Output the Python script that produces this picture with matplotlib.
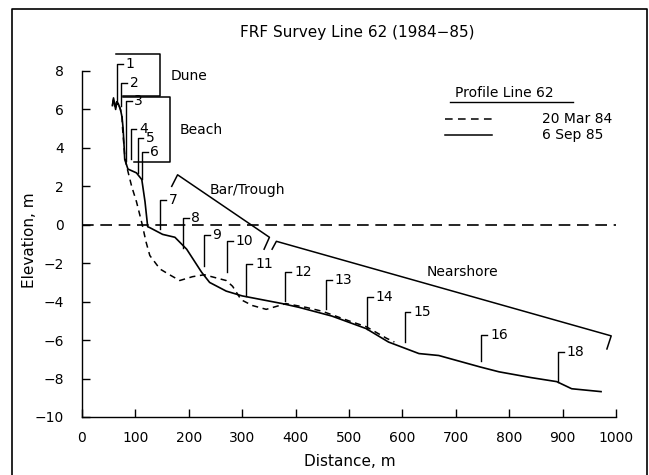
import matplotlib
matplotlib.use("Agg")
import matplotlib.pyplot as plt
from matplotlib.lines import Line2D

# profile 6 Sep 85 (solid)
sep85_x = [57, 59, 61, 63, 65, 68, 72, 75, 77, 79, 80, 86, 102, 112, 118, 123, 127,
           151, 174, 196, 224, 239, 270, 300, 375, 407, 468, 532, 574, 631, 668,
           746, 781, 841, 889, 917, 972]
sep85_y = [6.2, 6.6, 6.3, 6.0, 6.4, 6.3, 6.0, 5.6, 5.0, 4.0, 3.4, 2.9, 2.7, 2.35, 1.2, -0.1, -0.15,
           -0.5, -0.65, -1.27, -2.47, -3.0, -3.45, -3.7, -4.1, -4.3, -4.75, -5.4, -6.1, -6.7, -6.8,
           -7.4, -7.65, -7.95, -8.16, -8.53, -8.68]

# profile 20 Mar 84 (dashed)
mar84_x = [57, 59, 61, 63, 65, 68, 72, 75, 76, 80, 84, 93, 102, 112, 120, 127, 146, 164,
           183, 207, 229, 270, 282, 298, 319, 345, 382, 420, 450, 500, 532, 570, 585]
mar84_y = [6.2, 6.6, 6.3, 6.0, 6.4, 6.3, 6.0, 5.6, 5.0, 3.6, 3.0, 2.0, 1.2, 0.1, -0.9, -1.6, -2.3, -2.6,
           -2.9, -2.7, -2.6, -2.9, -3.2, -3.9, -4.2, -4.4, -4.1, -4.3, -4.5, -5.0, -5.3, -5.9, -6.1]

# survey markers: number, distance, top and bottom elevation
marker_ids = ["1", "2", "3", "4", "5", "6", "7", "8", "9", "10", "11", "12", "13", "14", "15", "16", "18"]
marker_x = [65, 73, 82, 91, 104, 112, 147, 189, 228, 271, 308, 381, 457, 534, 604, 748, 891]
marker_top = [8.36, 7.4, 6.45, 5.0, 4.5, 3.8, 1.27, 0.33, -0.55, -0.86, -2.05, -2.47, -2.88,
              -3.76, -4.54, -5.73, -6.6]
marker_bot = [6.3, 6.2, 3.3, 3.4, 2.7, 2.4, -0.2, -1.2, -2.15, -2.47, -3.7, -3.97, -4.4,
              -5.4, -6.1, -7.1, -8.2]

# zone outlines
dune_x = [63, 146, 146, 77]
dune_y = [8.9, 8.9, 6.7, 6.7]
beach_x = [77, 164, 164, 97]
beach_y = [6.65, 6.65, 3.28, 3.28]
bar_x = [168, 179, 351, 341]
bar_y = [2.0, 2.6, -0.65, -1.27]
near_x = [356, 364, 991, 983]
near_y = [-1.27, -0.86, -5.78, -6.46]

zone_labels = ["Dune", "Beach", "Bar/Trough", "Nearshore"]
zone_lx = [166, 183, 239, 646]
zone_ly = [7.74, 4.94, 1.83, -2.47]

xticks = [0, 100, 200, 300, 400, 500, 600, 700, 800, 900, 1000]
yticks = [-10, -8, -6, -4, -2, 0, 2, 4, 6, 8]

W, H = 649, 475
plt.rcParams["font.family"] = "DejaVu Sans"
fig = plt.figure(figsize=(W / 100, H / 100), dpi=100)

# axes placement in pixels: x 0->82, 1000->616 ; y -10->417, 8->71
ymin, ymax = -10, 9.5
ppu = (417 - 71) / 18.0
top_px = 417 - (ymax - ymin) * ppu
ax = fig.add_axes([82 / W, 1 - 417 / H, (616 - 82) / W, (417 - top_px) / H])
ax.set_xlim(0, 1000)
ax.set_ylim(ymin, ymax)

for s in ["top", "right"]:
    ax.spines[s].set_visible(False)
ax.spines["left"].set_bounds(-10, 8)
ax.spines["bottom"].set_bounds(0, 1000)
ax.spines["left"].set_linewidth(1.0)
ax.spines["bottom"].set_linewidth(1.0)

ax.set_xticks(xticks)
ax.set_yticks(yticks)
ax.tick_params(axis="x", direction="in", length=6, width=1, pad=10, labelsize=10)
ax.tick_params(axis="y", direction="in", length=6, width=1, pad=13, labelsize=10)

# mean water level
ax.plot([0, 1000], [0, 0], color="black", lw=1.2, linestyle=(0, (7, 4)))

# profiles
ax.plot(sep85_x, sep85_y, color="black", lw=1.2)
ax.plot(mar84_x, mar84_y, color="black", lw=1.1, linestyle=(0, (4, 3)))

# zone outlines
for zx, zy in [(dune_x, dune_y), (beach_x, beach_y), (bar_x, bar_y), (near_x, near_y)]:
    ax.plot(zx, zy, color="black", lw=1.1, clip_on=False)
for lab, lx, ly in zip(zone_labels, zone_lx, zone_ly):
    ax.text(lx, ly, lab, fontsize=10, ha="left", va="center")

# marker brackets
stub = 11
for mid, mx, mt, mb in zip(marker_ids, marker_x, marker_top, marker_bot):
    ax.plot([mx, mx, mx + stub], [mb, mt, mt], color="black", lw=1.0)
    ax.text(mx + stub + 5, mt, mid, fontsize=10, ha="left", va="center")

# titles and axis labels
fig.text(357 / W, 1 - 33 / H, "FRF Survey Line 62 (1984\u221285)", fontsize=11,
         ha="center", va="center")
fig.text(30 / W, 1 - 240 / H, "Elevation, m", fontsize=11, rotation=90,
         ha="center", va="center")
fig.text(350 / W, 1 - 462 / H, "Distance, m", fontsize=11, ha="center", va="center")

# legend block
fig.text(455 / W, 1 - 93 / H, "Profile Line 62", fontsize=10, ha="left", va="center")
fig.add_artist(Line2D([450 / W, 573 / W], [1 - 102 / H, 1 - 102 / H], color="black", lw=1.0))
fig.add_artist(Line2D([445 / W, 492 / W], [1 - 119 / H, 1 - 119 / H], color="black", lw=1.1,
                      linestyle=(0, (5, 3.5))))
fig.add_artist(Line2D([445 / W, 492 / W], [1 - 135 / H, 1 - 135 / H], color="black", lw=1.1))
fig.text(542 / W, 1 - 119 / H, "20 Mar 84", fontsize=10, ha="left", va="center")
fig.text(542 / W, 1 - 135 / H, "6 Sep 85", fontsize=10, ha="left", va="center")

# page frame
fl, fr, ft = 12 / W, 647 / W, 1 - 9 / H
fig.add_artist(Line2D([fl, fl, fr, fr], [0, ft, ft, 0], color="black", lw=1.2))

fig.savefig("out.png", dpi=100)
